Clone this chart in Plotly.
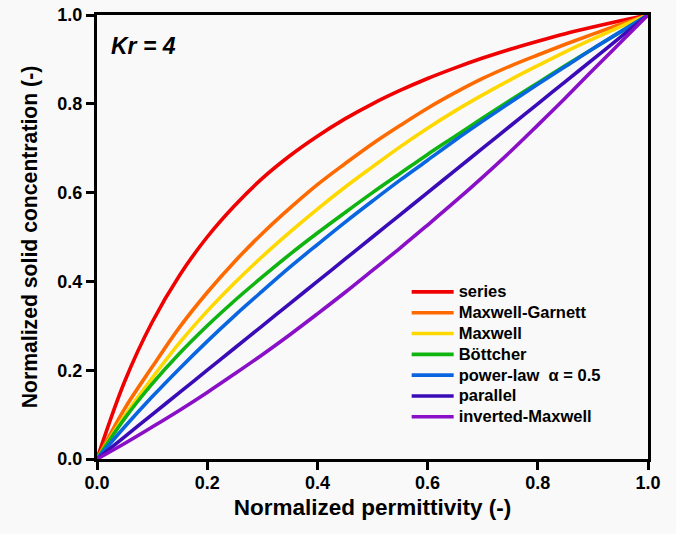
import plotly.graph_objects as go

# ---- data ----
x_perm = [0.0, 0.05, 0.1, 0.15, 0.2, 0.25, 0.3, 0.35, 0.4, 0.45, 0.5,
          0.55, 0.6, 0.65, 0.7, 0.75, 0.8, 0.85, 0.9, 0.95, 1.0]
series = [0.0, 0.174, 0.308, 0.414, 0.500, 0.571, 0.632, 0.683, 0.727, 0.766, 0.800,
          0.830, 0.857, 0.881, 0.903, 0.923, 0.941, 0.958, 0.973, 0.987, 1.0]
maxwell_garnett = [0.0, 0.113, 0.207, 0.297, 0.375, 0.445, 0.508, 0.565, 0.618, 0.665, 0.710,
                   0.751, 0.790, 0.825, 0.857, 0.885, 0.910, 0.934, 0.957, 0.979, 1.0]
maxwell = [0.0, 0.097, 0.182, 0.262, 0.333, 0.397, 0.456, 0.511, 0.563, 0.612, 0.658,
           0.703, 0.745, 0.784, 0.820, 0.854, 0.886, 0.917, 0.946, 0.974, 1.0]
bottcher = [0.0, 0.091, 0.169, 0.238, 0.300, 0.357, 0.410, 0.461, 0.509, 0.555, 0.600,
            0.643, 0.686, 0.727, 0.768, 0.808, 0.847, 0.886, 0.924, 0.962, 1.0]
power_law = [0.0, 0.072, 0.140, 0.204, 0.265, 0.323, 0.378, 0.432, 0.483, 0.533, 0.581,
             0.628, 0.673, 0.718, 0.761, 0.803, 0.844, 0.884, 0.924, 0.962, 1.0]
parallel = [0.0, 0.05, 0.1, 0.15, 0.2, 0.25, 0.3, 0.35, 0.4, 0.45, 0.5,
            0.55, 0.6, 0.65, 0.7, 0.75, 0.8, 0.85, 0.9, 0.95, 1.0]
inverted_maxwell = [0.0, 0.035, 0.072, 0.110, 0.150, 0.192, 0.235, 0.280, 0.327, 0.375, 0.425,
                    0.475, 0.527, 0.580, 0.635, 0.692, 0.752, 0.813, 0.876, 0.938, 1.0]

names = ["series", "Maxwell-Garnett", "Maxwell", "Böttcher",
         "power-law  α = 0.5", "parallel", "inverted-Maxwell"]
colors = ["#f00000", "#ff6a00", "#ffd800", "#10b410", "#0a66e0", "#3a0cb8", "#8a10c8"]
all_series = [series, maxwell_garnett, maxwell, bottcher, power_law, parallel, inverted_maxwell]

tick_vals = [0.0, 0.2, 0.4, 0.6, 0.8, 1.0]
tick_text = ["0.0", "0.2", "0.4", "0.6", "0.8", "1.0"]

FONT = "Arial, Liberation Sans, sans-serif"
BG = "#f9f9f9"

fig = go.Figure()
for name, ys, c in zip(names, all_series, colors):
    fig.add_trace(go.Scatter(
        x=x_perm, y=ys, mode="lines", line=dict(color=c, width=3.6, shape="spline", smoothing=1.0),
        name='<span style="font-size:16.5px">' + name + '</span>',
    ))

axis_common = dict(
    range=[0, 1], tickvals=tick_vals, ticktext=tick_text, automargin=False,
    showgrid=False, zeroline=False, showline=True, linecolor="black", linewidth=3,
    mirror=True, ticks="outside", ticklen=8, tickwidth=2.5, tickcolor="black",
    ticklabeloverflow="allow",
    tickfont=dict(family=FONT, size=18, color="black", weight="bold"),
)

fig.update_layout(
    width=676, height=534,
    paper_bgcolor=BG, plot_bgcolor=BG,
    margin=dict(l=97, r=28, t=15, b=75, autoexpand=False),
    showlegend=True,
    legend=dict(
        x=0.562, y=0.411, xanchor="left", yanchor="top",
        bgcolor="rgba(0,0,0,0)", borderwidth=0,
        font=dict(family=FONT, size=13.7, color="black", weight="bold"),
        itemwidth=42,
    ),
    xaxis=dict(**axis_common, ticklabelstandoff=-3,
               title=dict(text="<b>Normalized permittivity (-)</b>", standoff=8,
                          font=dict(family=FONT, size=22.5, color="black"))),
    yaxis=dict(**axis_common,
               title=dict(text="<b>Normalized solid concentration (-)</b>", standoff=14,
                          font=dict(family=FONT, size=21.2, color="black"))),
    annotations=[dict(
        x=0.022, y=0.93, xref="paper", yref="paper", xanchor="left", yanchor="middle",
        text="<b><i>Kr = 4</i></b>", showarrow=False,
        font=dict(family=FONT, size=23, color="black"),
    )],
)

fig.write_html("out.html",
               config={"displayModeBar": False},
               post_script="document.body.style.margin='0px';document.body.style.background='%s';" % BG)
